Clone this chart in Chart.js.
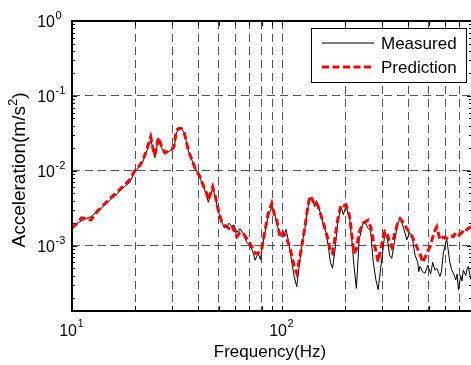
<!DOCTYPE html>
<html>
<head>
<meta charset="utf-8">
<script src="https://cdn.jsdelivr.net/npm/chart.js@4"></script>
<style>
  html, body { margin: 0; padding: 0; background: #fff; }
  body { width: 471px; height: 365px; overflow: hidden; }
  canvas { display: block; }
</style>
</head>
<body>
<canvas id="accelChart" width="474" height="365" style="width:474px;height:365px"></canvas>
<script>
// frequency (Hz) and acceleration (m/s^2)
var freq = [10, 10.5, 11.1, 11.7, 12.3, 13, 14, 15.2, 16.5, 17.6, 18.8, 19.9, 21, 21.7, 22.8, 23.7, 24.3, 24.8, 25.8, 26.7,
  27.7, 28.8, 29.8, 30.6, 31.4, 32.3, 33.2, 34.1, 35, 35.8, 37.2, 38.6, 40.7, 42.5, 43.8, 44.6, 46.8, 48.5, 49.7, 51.6,
  53, 54.6, 56, 57.7, 59, 60.9, 63, 65.4, 68, 70.5, 72.5, 74.5, 77, 79, 80, 83, 86, 89.4, 92, 94.4,
  97.8, 101, 104.5, 107, 110, 114, 117.5, 121, 124, 128.6, 132, 135.7, 139, 143, 146, 150, 157.5, 162, 166, 170,
  174, 179, 184, 191, 196, 202, 210, 215, 220, 226, 233, 243, 250, 257, 264, 272, 280, 287, 295, 309,
  318, 325, 333, 343, 355, 365, 380, 393, 405, 415, 430, 443, 448, 454, 467, 480, 495, 510, 516, 522, 535, 546,
  565, 575, 586, 608, 630, 642, 655, 672, 682, 692, 710, 720, 730, 750, 760, 771, 783, 795];

var measured = [1.74e-3, 1.95e-3, 2.15e-3, 2.3e-3, 2.45e-3, 2.75e-3, 3.3e-3, 4.1e-3, 5.0e-3, 6.0e-3, 7.0e-3, 9.5e-3, 0.0115, 0.013, 0.019, 0.026, 0.020, 0.015, 0.027, 0.020,
  0.017, 0.018, 0.019, 0.020, 0.032, 0.036, 0.036, 0.033, 0.025, 0.0185, 0.014, 0.0108, 8.0e-3, 6.0e-3, 4.6e-3, 3.8e-3, 6.0e-3, 4.0e-3, 2.9e-3, 2.1e-3,
  1.75e-3, 1.8e-3, 2.0e-3, 1.8e-3, 1.9e-3, 1.5e-3, 1.7e-3, 1.45e-3, 1.1e-3, 1.0e-3, 8.5e-4, 6.4e-4, 8.0e-4, 6.5e-4, 8.6e-4, 1.5e-3, 2.5e-3, 3.3e-3, 2.8e-3, 2.0e-3,
  1.4e-3, 1.3e-3, 1.65e-3, 1.2e-3, 7.5e-4, 4.0e-4, 2.85e-4, 5.5e-4, 1.0e-3, 1.7e-3, 2.9e-3, 4.3e-3, 4.4e-3, 3.3e-3, 4.0e-3, 3.2e-3, 1.9e-3, 1.5e-3, 1.0e-3, 6.0e-4,
  5.0e-4, 9.0e-4, 2.0e-3, 3.3e-3, 2.6e-3, 3.4e-3, 2.3e-3, 1.2e-3, 5.5e-4, 2.7e-4, 1.2e-3, 2.0e-3, 2.0e-3, 1.7e-3, 1.6e-3, 6.0e-4, 3.5e-4, 2.6e-4, 5.0e-4, 1.45e-3,
  1.2e-3, 7.5e-4, 6.8e-4, 1.1e-3, 1.9e-3, 2.4e-3, 1.7e-3, 1.2e-3, 1.5e-3, 1.4e-3, 7.5e-4, 6.0e-4, 4.5e-4, 5.3e-4, 4.5e-4, 4.3e-4, 5.5e-4, 4.2e-4, 5.0e-4, 6.0e-4, 4.7e-4, 5.0e-4,
  3.9e-4, 4.6e-4, 7.9e-4, 1.25e-3, 6.0e-4, 4.8e-4, 4.3e-4, 3.5e-4, 4.2e-4, 2.6e-4, 4.0e-4, 3.4e-4, 4.7e-4, 4.0e-4, 4.8e-4, 5.3e-4, 4.2e-4, 3.5e-4];

var predicted = [1.74e-3, 1.95e-3, 2.35e-3, 2.3e-3, 2.2e-3, 2.75e-3, 3.4e-3, 4.3e-3, 5.3e-3, 6.3e-3, 7.6e-3, 0.010, 0.0118, 0.0135, 0.020, 0.0284, 0.020, 0.016, 0.0279, 0.021,
  0.0174, 0.0185, 0.0193, 0.021, 0.0349, 0.037, 0.0367, 0.034, 0.025, 0.0189, 0.014, 0.0108, 8.3e-3, 6.0e-3, 5.0e-3, 4.07e-3, 6.1e-3, 4.2e-3, 3.0e-3, 2.09e-3,
  1.9e-3, 1.8e-3, 1.7e-3, 1.87e-3, 1.6e-3, 1.32e-3, 1.5e-3, 1.45e-3, 1.25e-3, 1.07e-3, 9.0e-4, 7.9e-4, 8.0e-4, 8.6e-4, 8.8e-4, 1.6e-3, 2.7e-3, 3.67e-3, 2.6e-3, 2.2e-3,
  1.32e-3, 1.5e-3, 1.35e-3, 1.1e-3, 8.5e-4, 5.5e-4, 4.3e-4, 6.5e-4, 9.6e-4, 1.78e-3, 3.0e-3, 4.6e-3, 4.2e-3, 3.6e-3, 3.8e-3, 3.1e-3, 2.0e-3, 1.5e-3, 1.2e-3, 8.5e-4,
  7.9e-4, 1.3e-3, 2.2e-3, 3.5e-3, 3.4e-3, 3.5e-3, 2.45e-3, 1.4e-3, 7.9e-4, 9.0e-4, 1.5e-3, 2.0e-3, 2.1e-3, 2.2e-3, 1.8e-3, 1.2e-3, 8.5e-4, 6.1e-4, 9.0e-4, 1.55e-3,
  1.45e-3, 1.1e-3, 9.6e-4, 1.4e-3, 2.0e-3, 2.3e-3, 2.0e-3, 1.7e-3, 1.5e-3, 1.35e-3, 1.1e-3, 9.0e-4, 8.5e-4, 7.9e-4, 6.0e-4, 7.0e-4, 8.5e-4, 1.0e-3, 1.15e-3, 1.3e-3, 1.6e-3, 1.78e-3,
  1.2e-3, 1.25e-3, 1.3e-3, 1.25e-3, 1.35e-3, 1.35e-3, 1.32e-3, 1.5e-3, 1.45e-3, 1.4e-3, 1.45e-3, 1.5e-3, 1.6e-3, 1.55e-3, 1.65e-3, 1.7e-3, 1.75e-3, 1.78e-3];

// axis ticks
var xGrid = [10, 20, 30, 40, 50, 60, 70, 80, 90, 100, 200, 300, 400, 500, 600, 700];
var xLabelTicks = [10, 100];
var yLabelTicks = [1, 0.1, 0.01, 0.001];

var FONT = '"Liberation Sans", Arial, sans-serif';

function toPoints(xs, ys) {
  return xs.map(function(v, i) { return { x: v, y: ys[i] }; });
}

function drawPower(ctx, exp, xRight, baseline, supRaise, size, supSize) {
  ctx.font = size + 'px ' + FONT;
  ctx.textAlign = 'right';
  ctx.fillText('10', xRight, baseline);
  ctx.font = supSize + 'px ' + FONT;
  ctx.textAlign = 'left';
  ctx.fillText(String(exp), xRight + 0.5, baseline - supRaise);
}

// axes box, inward ticks, tick labels, titles and legend
var matlabFrame = {
  id: 'matlabFrame',
  afterDatasetsDraw: function(chart) {
    var ctx = chart.ctx, a = chart.chartArea;
    var xs = chart.scales.x, ys = chart.scales.y;
    ctx.save();
    ctx.strokeStyle = '#000';
    ctx.lineWidth = 1;
    ctx.beginPath();
    xGrid.forEach(function(v) {
      var px = Math.round(xs.getPixelForValue(v)) + 0.5;
      ctx.moveTo(px, a.bottom); ctx.lineTo(px, a.bottom - 5);
      ctx.moveTo(px, a.top); ctx.lineTo(px, a.top + 5);
    });
    for (var k = -4; k < 0; k++) {
      for (var m = 1; m <= 9; m++) {
        var v = m * Math.pow(10, k);
        if (v < ys.min || v > ys.max) continue;
        var py = Math.round(ys.getPixelForValue(v)) + 0.5;
        var len = m === 1 ? 5 : 3;
        ctx.moveTo(a.left, py); ctx.lineTo(a.left + len, py);
        ctx.moveTo(a.right, py); ctx.lineTo(a.right - len, py);
      }
    }
    ctx.stroke();
    ctx.lineWidth = 2;
    ctx.strokeRect(a.left, a.top, a.right - a.left, a.bottom - a.top);

    // tick labels
    ctx.fillStyle = '#000';
    ctx.textBaseline = 'alphabetic';
    yLabelTicks.forEach(function(v) {
      var py = ys.getPixelForValue(v);
      drawPower(ctx, Math.round(Math.log10(v)), 55, py + 6, 8, 16, 11);
    });
    xLabelTicks.forEach(function(v) {
      var px = xs.getPixelForValue(v);
      drawPower(ctx, Math.round(Math.log10(v)), px + 5, 336, 9, 16, 11);
    });

    // x title
    ctx.font = '17px ' + FONT;
    ctx.textAlign = 'center';
    ctx.fillText('Frequency(Hz)', 270, 357);

    // y title with superscript
    ctx.save();
    ctx.translate(25, 170);
    ctx.rotate(-Math.PI / 2);
    var main = 'Acceleration(m/s', sup = '2', tail = ')';
    ctx.font = '19px ' + FONT;
    var w1 = ctx.measureText(main).width, w3 = ctx.measureText(tail).width;
    ctx.font = '13px ' + FONT;
    var w2 = ctx.measureText(sup).width;
    var x0 = -(w1 + w2 + w3) / 2;
    ctx.textAlign = 'left';
    ctx.font = '19px ' + FONT;
    ctx.fillText(main, x0, 0);
    ctx.fillText(tail, x0 + w1 + w2, 0);
    ctx.font = '13px ' + FONT;
    ctx.fillText(sup, x0 + w1, -8);
    ctx.restore();

    // legend
    ctx.fillStyle = '#fff';
    ctx.fillRect(311, 28, 155, 54);
    ctx.lineWidth = 1;
    ctx.strokeStyle = '#000';
    ctx.strokeRect(311.5, 28.5, 155, 54);
    var rows = [43, 67];
    chart.data.datasets.forEach(function(ds, i) {
      ctx.save();
      ctx.strokeStyle = ds.borderColor;
      ctx.lineWidth = ds.borderWidth;
      ctx.setLineDash(ds.borderDash || []);
      ctx.beginPath();
      ctx.moveTo(322, rows[i]);
      ctx.lineTo(374, rows[i]);
      ctx.stroke();
      ctx.restore();
      ctx.fillStyle = '#000';
      ctx.font = '17px ' + FONT;
      ctx.textAlign = 'left';
      ctx.fillText(ds.label, 381, rows[i] + 6);
    });
    ctx.restore();
  }
};

var ctx = document.getElementById('accelChart').getContext('2d');
new Chart(ctx, {
  type: 'line',
  data: {
    datasets: [{
      label: 'Measured',
      data: toPoints(freq, measured),
      borderColor: '#000',
      borderWidth: 1,
      pointRadius: 0,
      tension: 0,
      order: 1
    }, {
      label: 'Prediction',
      data: toPoints(freq, predicted),
      borderColor: '#ff0000',
      borderWidth: 3,
      borderDash: [7, 3.5],
      pointRadius: 0,
      tension: 0,
      order: 0
    }]
  },
  options: {
    responsive: false,
    animation: false,
    devicePixelRatio: 1,
    layout: { padding: { left: 72, top: 21, right: 2, bottom: 54 } },
    plugins: { legend: { display: false }, tooltip: { enabled: false } },
    scales: {
      x: {
        type: 'logarithmic',
        min: 10,
        max: 803,
        afterBuildTicks: function(s) { s.ticks = xGrid.map(function(v) { return { value: v }; }); },
        ticks: { display: false },
        grid: { color: '#555', lineWidth: 1, drawTicks: false },
        border: { display: false, dash: [8, 5] }
      },
      y: {
        type: 'logarithmic',
        min: 1.346e-4,
        max: 1,
        afterBuildTicks: function(s) { s.ticks = yLabelTicks.map(function(v) { return { value: v }; }); },
        ticks: { display: false },
        grid: { color: '#555', lineWidth: 1, drawTicks: false },
        border: { display: false, dash: [8, 5] }
      }
    }
  },
  plugins: [matlabFrame]
});
</script>
</body>
</html>
